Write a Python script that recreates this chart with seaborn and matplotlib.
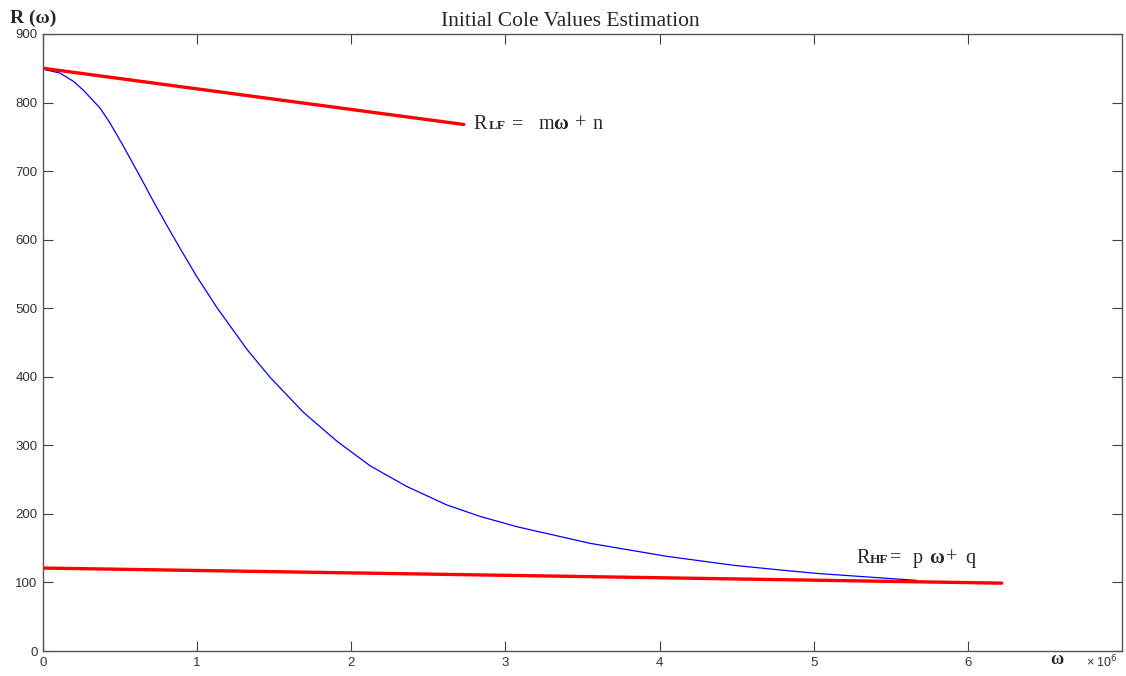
import numpy as np
import pandas as pd
import seaborn as sns
import matplotlib
matplotlib.use("Agg")
import matplotlib.pyplot as plt

# omega in units of 1e6, R in ohms
w_meas = [0.0, 0.013, 0.11, 0.197, 0.262, 0.37, 0.435, 0.52, 0.63, 0.716, 0.803,
          0.89, 0.998, 1.128, 1.323, 1.474, 1.69, 1.907, 2.123, 2.36, 2.62,
          2.84, 3.08, 3.55, 4.05, 4.48, 4.79, 5.03, 5.67]
r_meas = [849, 848, 843, 831, 818, 792, 770, 737, 692, 656, 621,
          587, 546, 501, 440, 399, 348, 306, 270, 240, 213,
          196, 181, 157, 138, 125, 118, 113, 103]

w_lf = [0.0, 2.73]
r_lf = [850, 768]

w_hf = [0.0, 6.22]
r_hf = [121, 99]

sns.set_style("white")
plt.rcParams["font.family"] = ["Liberation Sans", "DejaVu Sans"]

fig = plt.figure(figsize=(11.26, 6.76), dpi=100)
ax = fig.add_axes([43 / 1126, 25 / 676, 1079 / 1126, 617 / 676])

meas = pd.DataFrame({"w": w_meas, "R": r_meas})
lf = pd.DataFrame({"w": w_lf, "R": r_lf})
hf = pd.DataFrame({"w": w_hf, "R": r_hf})

sns.lineplot(data=meas, x="w", y="R", ax=ax, color="#0000ff", lw=0.9, sort=False)
sns.lineplot(data=lf, x="w", y="R", ax=ax, color="#ff0000", lw=2.4, sort=False)
sns.lineplot(data=hf, x="w", y="R", ax=ax, color="#ff0000", lw=2.4, sort=False)

ax.set_xlim(0, 7)
ax.set_ylim(0, 900)
ax.set_xticks(range(0, 7))
ax.set_yticks(range(0, 901, 100))
ax.set_xlabel("")
ax.set_ylabel("")
ax.tick_params(direction="in", length=7, width=0.8, color="#404040",
               labelsize=9.5, labelcolor="#333333", top=True, right=True,
               left=True, bottom=True, pad=4)
for s in ax.spines.values():
    s.set_color("#555555")
    s.set_linewidth(1.0)

serif = ["Liberation Serif", "DejaVu Serif"]
ax.set_title("Initial Cole Values Estimation", fontsize=15.5, family=serif,
             pad=6, x=(570 - 43) / 1079)
fig.text(10 / 1126, 1 - 18 / 676, "R (ω)", family=serif, fontsize=14,
         fontweight="bold", va="center", ha="left")
fig.text(1050 / 1126, 1 - 659 / 676, "ω", family=serif, fontsize=13,
         fontweight="bold", va="center", ha="left")
fig.text(1086 / 1126, 1 - 662 / 676, r"× 10$^6$", fontsize=9,
         color="#333333", va="center", ha="left")


def eq_label(x, y, pieces):
    # pieces: (text, pixel offset, size, weight)
    for txt, dx, size, weight in pieces:
        ax.annotate(txt, (x, y), xytext=(dx, 0), textcoords="offset pixels",
                    family=serif, fontsize=size, fontweight=weight,
                    va="baseline", ha="left")


eq_label(2.79, 762, [("R", 0, 14.5, "normal"), ("LF", 16, 9.5, "bold"),
                     ("=", 39, 14.5, "normal"), ("m", 65, 14.5, "normal"),
                     ("ω", 80, 14.5, "bold"), ("+", 102, 14.5, "normal"),
                     ("n", 119, 14.5, "normal")])
eq_label(5.28, 129, [("R", 0, 14.5, "normal"), ("HF", 13, 9.5, "bold"),
                     ("=", 33, 14.5, "normal"), ("p", 56, 14.5, "normal"),
                     ("ω", 72, 14.5, "bold"), ("+", 89, 14.5, "normal"),
                     ("q", 108, 14.5, "normal")])

fig.savefig("out.png", dpi=100)
